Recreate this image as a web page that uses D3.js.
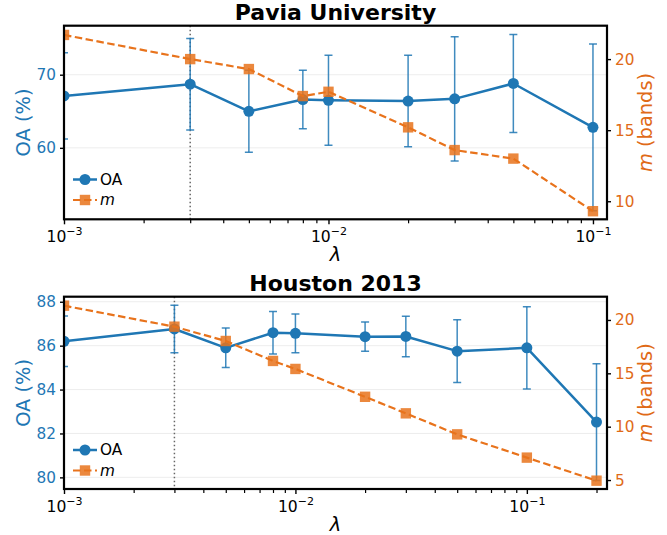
<!DOCTYPE html>
<html>
<head>
<meta charset="utf-8">
<script src="https://cdn.jsdelivr.net/npm/d3@7"></script>
<style>
  html, body { margin: 0; padding: 0; background: #fff; }
  svg { display: block; }
  text { font-family: "DejaVu Sans", sans-serif; }
</style>
</head>
<body>
<svg id="chart" width="667" height="535"></svg>
<script>
// ---------- data ----------
const paviaLambda = [0.001, 0.003, 0.005, 0.008, 0.01, 0.02, 0.03, 0.05, 0.1];
const paviaOA     = [67.1, 68.7, 65.0, 66.6, 66.5, 66.4, 66.7, 68.8, 62.8];
const paviaOAErr  = [5.9, 6.25, 5.6, 4.0, 6.15, 6.25, 8.5, 6.7, 11.4];
const paviaM      = [21.7, 20.0, 19.3, 17.4, 17.7, 15.2, 13.6, 13.0, 9.3];

const houstonLambda = [0.001, 0.003, 0.005, 0.008, 0.01, 0.02, 0.03, 0.05, 0.1, 0.2];
const houstonOA     = [86.2, 86.76, 85.9, 86.59, 86.56, 86.41, 86.42, 85.75, 85.9, 82.52];
const houstonOAErr  = [1.15, 1.08, 0.9, 0.97, 0.88, 0.67, 0.92, 1.43, 1.87, 2.66];
const houstonM      = [21.34, 19.37, 18.03, 16.16, 15.41, 12.8, 11.25, 9.28, 7.1, 4.94];

const paviaOATicks   = [60, 70];
const paviaMTicks    = [10, 15, 20];
const houstonOATicks = [80, 82, 84, 86, 88];
const houstonMTicks  = [5, 10, 15, 20];
const xMajorTicks    = [1e-3, 1e-2, 1e-1];
const xMajorExp      = ["\u22123", "\u22122", "\u22121"];
const selectedLambda = 0.003;

const titles = ["Pavia University", "Houston 2013"];
const legendLabels = ["OA", "m"];

// ---------- style ----------
const BLUE = "#1f77b4";
const ORANGE = "#e8731c";
const ORANGE_TXT = "#e06a17";

const svg = d3.select("#chart");

function panel(cfg, idx) {
  const { x0, x1, y0, y1 } = cfg;
  const g = svg.append("g");

  const x = d3.scaleLog().domain(cfg.xDomain).range([x0, x1]);
  const yL = d3.scaleLinear().domain(cfg.oaDomain).range([y1, y0]);
  const yR = d3.scaleLinear().domain(cfg.mDomain).range([y1, y0]);

  const clipId = "clip" + idx;
  svg.append("clipPath").attr("id", clipId)
    .append("rect").attr("x", x0).attr("y", y0).attr("width", x1 - x0).attr("height", y1 - y0);

  // grid (left axis ticks)
  g.append("g").selectAll("line").data(cfg.oaTicks).join("line")
    .attr("x1", x0).attr("x2", x1)
    .attr("y1", d => yL(d)).attr("y2", d => yL(d))
    .attr("stroke", "#ebebeb").attr("stroke-width", 0.9);

  const plot = g.append("g").attr("clip-path", `url(#${clipId})`);

  // dotted vertical line
  plot.append("line")
    .attr("x1", x(selectedLambda)).attr("x2", x(selectedLambda))
    .attr("y1", y0).attr("y2", y1)
    .attr("stroke", "#666").attr("stroke-width", 1.5)
    .attr("stroke-dasharray", "1.5,2.5");

  const oaData = cfg.lambda.map((l, i) => ({ l, v: cfg.oa[i], e: cfg.err[i] }));
  const mData = cfg.lambda.map((l, i) => ({ l, v: cfg.m[i] }));

  // error bars
  const eb = plot.append("g").attr("stroke", BLUE).attr("stroke-width", 1.5).attr("stroke-opacity", 0.85);
  eb.selectAll("line.v").data(oaData).join("line").attr("class", "v")
    .attr("x1", d => x(d.l)).attr("x2", d => x(d.l))
    .attr("y1", d => yL(d.v - d.e)).attr("y2", d => yL(d.v + d.e));
  eb.selectAll("line.ct").data(oaData).join("line").attr("class", "ct")
    .attr("x1", d => x(d.l) - 4).attr("x2", d => x(d.l) + 4)
    .attr("y1", d => yL(d.v + d.e)).attr("y2", d => yL(d.v + d.e));
  eb.selectAll("line.cb").data(oaData).join("line").attr("class", "cb")
    .attr("x1", d => x(d.l) - 4).attr("x2", d => x(d.l) + 4)
    .attr("y1", d => yL(d.v - d.e)).attr("y2", d => yL(d.v - d.e));

  // OA line
  plot.append("path").datum(oaData)
    .attr("fill", "none").attr("stroke", BLUE).attr("stroke-width", 2.5)
    .attr("stroke-linejoin", "round")
    .attr("d", d3.line().x(d => x(d.l)).y(d => yL(d.v)));
  plot.append("g").selectAll("circle").data(oaData).join("circle")
    .attr("cx", d => x(d.l)).attr("cy", d => yL(d.v)).attr("r", 5.5)
    .attr("fill", BLUE);

  // m line
  plot.append("path").datum(mData)
    .attr("fill", "none").attr("stroke", ORANGE).attr("stroke-width", 2.2)
    .attr("stroke-dasharray", "7.5,3.5")
    .attr("d", d3.line().x(d => x(d.l)).y(d => yR(d.v)));
  plot.append("g").selectAll("rect").data(mData).join("rect")
    .attr("x", d => x(d.l) - 5.2).attr("y", d => yR(d.v) - 5.2)
    .attr("width", 10.4).attr("height", 10.4)
    .attr("fill", ORANGE).attr("fill-opacity", 0.85);

  // left axis
  const axL = g.append("g").attr("transform", `translate(${x0},0)`)
    .call(d3.axisLeft(yL).tickValues(cfg.oaTicks).tickSize(4).tickPadding(4));
  axL.select(".domain").remove();
  axL.selectAll("line").attr("stroke", "#000").attr("stroke-width", 1.4);
  axL.selectAll("text").attr("fill", BLUE).style("font-size", "15.3px")
    .attr("dy", null).attr("dominant-baseline", "central");

  // right axis
  const axR = g.append("g").attr("transform", `translate(${x1},0)`)
    .call(d3.axisRight(yR).tickValues(cfg.mTicks).tickSize(4).tickPadding(4));
  axR.select(".domain").remove();
  axR.selectAll("line").attr("stroke", "#000").attr("stroke-width", 1.4);
  axR.selectAll("text").attr("fill", ORANGE_TXT).style("font-size", "15.3px")
    .attr("dy", null).attr("dominant-baseline", "central");

  // bottom axis: minor
  const minor = x.ticks().filter(t => !xMajorTicks.some(m => Math.abs(m - t) / m < 1e-9));
  const axMin = g.append("g").attr("transform", `translate(0,${y1})`)
    .call(d3.axisBottom(x).tickValues(minor).tickSize(4).tickFormat(() => ""));
  axMin.select(".domain").remove();
  axMin.selectAll("line").attr("stroke", "#000").attr("stroke-width", 1.2);

  // bottom axis: major
  const axMaj = g.append("g").attr("transform", `translate(0,${y1})`)
    .call(d3.axisBottom(x).tickValues(xMajorTicks).tickSize(5).tickFormat(() => ""));
  axMaj.select(".domain").remove();
  axMaj.selectAll("line").attr("stroke", "#000").attr("stroke-width", 1.4);
  axMaj.selectAll(".tick text").remove();
  axMaj.selectAll(".tick").each(function(d, i) {
    const t = d3.select(this).append("text")
      .attr("y", 23).attr("text-anchor", "middle")
      .attr("fill", "#000").style("font-size", "15.6px");
    t.append("tspan").text("10");
    t.append("tspan").attr("dy", -7).style("font-size", "11px").text(xMajorExp[i]);
  });

  // spines
  g.append("rect").attr("x", x0).attr("y", y0).attr("width", x1 - x0).attr("height", y1 - y0)
    .attr("fill", "none").attr("stroke", "#000").attr("stroke-width", 2.2);

  // labels
  const cy = (y0 + y1) / 2;
  g.append("text").attr("transform", `translate(29.5,${cy}) rotate(-90)`)
    .attr("text-anchor", "middle").attr("fill", BLUE).style("font-size", "19.4px")
    .text("OA (%)");
  const rl = g.append("text").attr("transform", `translate(652,${cy}) rotate(-90)`)
    .attr("text-anchor", "middle").attr("fill", ORANGE_TXT).style("font-size", "19.4px");
  rl.append("tspan").style("font-style", "italic").text("m");
  rl.append("tspan").text(" (bands)");

  g.append("text").attr("x", (x0 + x1) / 2).attr("y", y1 + 42)
    .attr("text-anchor", "middle").style("font-size", "19.4px").style("font-style", "italic")
    .text("\u03bb");

  g.append("text").attr("x", (x0 + x1) / 2).attr("y", y0 - 6)
    .attr("text-anchor", "middle").style("font-size", "22px").style("font-weight", "bold")
    .text(titles[idx]);

  // legend
  const lg = g.append("g");
  const ly = [cfg.legY, cfg.legY + 20.5];
  lg.append("line").attr("x1", 73).attr("x2", 97).attr("y1", ly[0]).attr("y2", ly[0])
    .attr("stroke", BLUE).attr("stroke-width", 2.5);
  lg.append("circle").attr("cx", 85).attr("cy", ly[0]).attr("r", 5.5).attr("fill", BLUE);
  lg.append("line").attr("x1", 73).attr("x2", 97).attr("y1", ly[1]).attr("y2", ly[1])
    .attr("stroke", ORANGE).attr("stroke-width", 2.2).attr("stroke-dasharray", "7.5,3.5");
  lg.append("rect").attr("x", 85 - 5.2).attr("y", ly[1] - 5.2).attr("width", 10.4).attr("height", 10.4)
    .attr("fill", ORANGE).attr("fill-opacity", 0.85);
  lg.append("text").attr("x", 100).attr("y", ly[0]).attr("dominant-baseline", "central")
    .style("font-size", "15.3px").text(legendLabels[0]);
  lg.append("text").attr("x", 100).attr("y", ly[1]).attr("dominant-baseline", "central")
    .style("font-size", "15.3px").style("font-style", "italic").text(legendLabels[1]);
}

panel({
  x0: 64, x1: 607, y0: 25.7, y1: 219.3,
  xDomain: [1e-3, 0.113], oaDomain: [50.23, 76.7], mDomain: [8.73, 22.35],
  lambda: paviaLambda, oa: paviaOA, err: paviaOAErr, m: paviaM,
  oaTicks: paviaOATicks, mTicks: paviaMTicks, legY: 179.5
}, 0);

panel({
  x0: 64, x1: 607, y0: 296.7, y1: 489,
  xDomain: [1e-3, 0.222], oaDomain: [79.47, 88.23], mDomain: [4.16, 22.18],
  lambda: houstonLambda, oa: houstonOA, err: houstonOAErr, m: houstonM,
  oaTicks: houstonOATicks, mTicks: houstonMTicks, legY: 450
}, 1);
</script>
</body>
</html>
